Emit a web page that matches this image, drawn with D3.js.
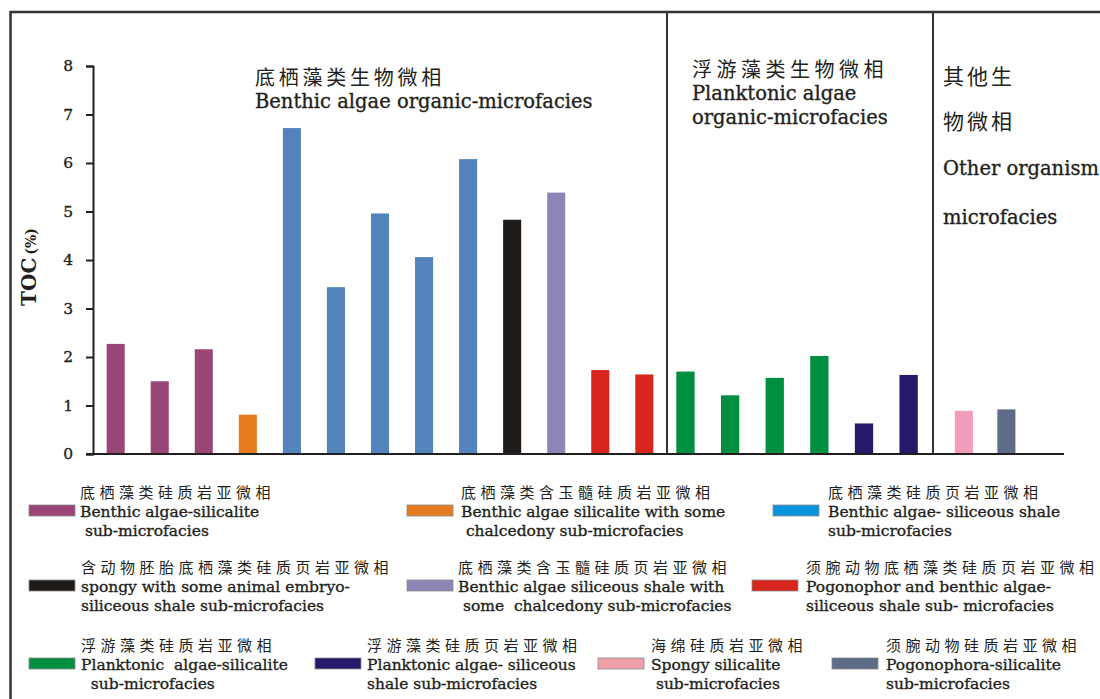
<!DOCTYPE html>
<html>
<head>
<meta charset="utf-8">
<script src="https://cdn.jsdelivr.net/npm/d3@7"></script>
<style>
  html, body { margin: 0; padding: 0; background: #fff; }
  svg { display: block; }
  text { white-space: pre; }
  text.heavy { stroke: #231f20; stroke-width: 0.35px; }
</style>
</head>
<body>
<script>
// ---------------- DATA ----------------
const categories = ["1","2","3","4","5","6","7","8","9","10","11","12","13","14","15","16","17","18","19","20","21"];
const values = [2.27, 1.50, 2.16, 0.81, 6.72, 3.44, 4.96, 4.06, 6.08, 4.83, 5.39, 1.73, 1.64, 1.70, 1.21, 1.57, 2.02, 0.63, 1.63, 0.89, 0.92];
const facies = [0, 0, 0, 1, 2, 2, 2, 2, 2, 3, 4, 5, 5, 6, 6, 6, 6, 7, 7, 8, 9];
const groupOf = ["benthic","benthic","benthic","benthic","benthic","benthic","benthic","benthic","benthic","benthic","benthic","benthic","benthic",
                 "planktonic","planktonic","planktonic","planktonic","planktonic","planktonic",
                 "other","other"];
const groupNames = ["benthic", "planktonic", "other"];
const yTicks = [0, 1, 2, 3, 4, 5, 6, 7, 8];

const barColors    = ["#9A4777", "#E67A1E", "#5283BA", "#201C19", "#8C86B7", "#D8261F", "#008F40", "#28186A", "#F19BBD", "#5E6D87"];
const legendColors = ["#9A4777", "#E67A1E", "#0A96DC", "#201C19", "#8C86B7", "#D8261F", "#008F40", "#28186A", "#EFA0A8", "#5E6D87"];

const legendCn = [
  "底栖藻类硅质岩亚微相",
  "底栖藻类含玉髓硅质岩亚微相",
  "底栖藻类硅质页岩亚微相",
  "含动物胚胎底栖藻类硅质页岩亚微相",
  "底栖藻类含玉髓硅质页岩亚微相",
  "须腕动物底栖藻类硅质页岩亚微相",
  "浮游藻类硅质岩亚微相",
  "浮游藻类硅质页岩亚微相",
  "海绵硅质岩亚微相",
  "须腕动物硅质岩亚微相"
];
const legendEn = [
  ["Benthic algae-silicalite", " sub-microfacies"],
  ["Benthic algae silicalite with some", " chalcedony sub-microfacies"],
  ["Benthic algae- siliceous shale", "sub-microfacies"],
  ["spongy with some animal embryo-", "siliceous shale sub-microfacies"],
  ["Benthic algae siliceous shale with", " some  chalcedony sub-microfacies"],
  ["Pogonophor and benthic algae-", "siliceous shale sub- microfacies"],
  ["Planktonic  algae-silicalite", "  sub-microfacies"],
  ["Planktonic algae- siliceous", "shale sub-microfacies"],
  ["Spongy silicalite", " sub-microfacies"],
  ["Pogonophora-silicalite", "sub-microfacies"]
];

const groupTitleCn = [["底栖藻类生物微相"], ["浮游藻类生物微相"], ["其他生", "物微相"]];
const groupTitleEn = [["Benthic algae organic-microfacies"], ["Planktonic algae", "organic-microfacies"], ["Other organism", "microfacies"]];

// ---------------- LAYOUT ----------------
const W = 1100, H = 699;
const INK = "#231f20";
const SERIF = "'DejaVu Serif', serif";
const CJK = "'Noto Sans CJK SC', sans-serif";

const svg = d3.select("body").append("svg").attr("width", W).attr("height", H);
svg.append("rect").attr("width", W).attr("height", H).attr("fill", "#fff");

// frame
svg.append("path").attr("d", "M10.5,699V12H1100").attr("fill", "none").attr("stroke", "#333").attr("stroke-width", 2.5);

const y = d3.scaleLinear().domain([0, 8]).range([454, 66]);

const groupRanges = [[93, 667], [667, 933], [933, 1064]];
const groupPad = [
  { inner: 0.59, outer: 0.31, align: 0.5 },
  { inner: 0.59, outer: 0.275, align: 0.38 },
  { inner: 0.576, outer: 0.828, align: 0.31 }
];
const xScales = {};
groupNames.forEach((g, gi) => {
  xScales[g] = d3.scaleBand()
    .domain(categories.filter((c, i) => groupOf[i] === g))
    .range(groupRanges[gi])
    .paddingInner(groupPad[gi].inner)
    .paddingOuter(groupPad[gi].outer)
    .align(groupPad[gi].align);
});

// dividers
[groupRanges[1][0], groupRanges[2][0]].forEach(xv => {
  svg.append("line").attr("x1", xv).attr("x2", xv).attr("y1", 12).attr("y2", y(0))
    .attr("stroke", "#333").attr("stroke-width", 2);
});

// bars
const bars = categories.map((c, i) => ({ c, v: values[i], f: facies[i], g: groupOf[i] }));
svg.append("g").selectAll("rect").data(bars).join("rect")
  .attr("x", d => xScales[d.g](d.c))
  .attr("width", d => xScales[d.g].bandwidth())
  .attr("y", d => y(d.v))
  .attr("height", d => y(0) - y(d.v))
  .attr("fill", d => barColors[d.f]);

// x baseline
svg.append("line").attr("x1", 86).attr("x2", groupRanges[2][1]).attr("y1", y(0)).attr("y2", y(0))
  .attr("stroke", INK).attr("stroke-width", 2);

// y axis
const yAxis = svg.append("g").attr("transform", "translate(93,0)")
  .call(d3.axisLeft(y).tickValues(yTicks).tickSize(7).tickPadding(13).tickFormat(d3.format("d")));
yAxis.select(".domain").attr("stroke", INK).attr("stroke-width", 2);
yAxis.selectAll(".tick line").attr("stroke", INK).attr("stroke-width", 2);
yAxis.selectAll(".tick text").attr("class", "heavy").attr("font-family", SERIF).attr("font-size", 15.5).attr("fill", INK);

// y label
const yl = svg.append("text").attr("transform", "translate(36,267) rotate(-90)")
  .attr("text-anchor", "middle").attr("font-family", SERIF).attr("font-weight", "bold").attr("fill", INK);
yl.append("tspan").attr("font-size", 20).text("TOC");
yl.append("tspan").attr("font-size", 14).attr("dx", 3).text("(%)");

// group titles
const titlePos = [
  { x: 255, cn: [85], cnSize: 20, cnLs: 3.75, en: [108] },
  { x: 692, cn: [77], cnSize: 20, cnLs: 4.5, en: [100, 124] },
  { x: 943, cn: [84, 129], cnSize: 21, cnLs: 3, en: [175, 224] }
];
groupTitleCn.forEach((lines, gi) => {
  lines.forEach((t, li) => {
    svg.append("text").attr("x", titlePos[gi].x).attr("y", titlePos[gi].cn[li])
      .attr("font-family", CJK).attr("font-size", titlePos[gi].cnSize)
      .attr("letter-spacing", titlePos[gi].cnLs).attr("fill", INK).text(t);
  });
  groupTitleEn[gi].forEach((t, li) => {
    svg.append("text").attr("class", "heavy").attr("x", titlePos[gi].x).attr("y", titlePos[gi].en[li])
      .attr("font-family", SERIF).attr("font-size", 19.5).attr("fill", INK).text(t);
  });
});

// legend
const rowY = [505, 580, 658]; // swatch tops
const legendPos = [
  { r: 0, sx: 29, tx: 80 }, { r: 0, sx: 407, tx: 461 }, { r: 0, sx: 773, tx: 828 },
  { r: 1, sx: 29, tx: 81 }, { r: 1, sx: 407, tx: 458 }, { r: 1, sx: 752, tx: 806 },
  { r: 2, sx: 29, tx: 81 }, { r: 2, sx: 315, tx: 367 }, { r: 2, sx: 598, tx: 651 }, { r: 2, sx: 832, tx: 886 }
];
const lg = svg.append("g").selectAll("g").data(legendCn).join("g");
lg.append("rect")
  .attr("x", (d, i) => legendPos[i].sx).attr("y", (d, i) => rowY[legendPos[i].r])
  .attr("width", 46).attr("height", 11)
  .attr("fill", (d, i) => legendColors[i]).attr("stroke", "#8a8a8a").attr("stroke-width", 0.8);
lg.append("text")
  .attr("x", (d, i) => legendPos[i].tx).attr("y", (d, i) => rowY[legendPos[i].r] - 7)
  .attr("font-family", CJK).attr("font-size", 15).attr("letter-spacing", 4.5).attr("fill", INK)
  .text(d => d);
lg.each(function (d, i) {
  legendEn[i].forEach((t, li) => {
    d3.select(this).append("text").attr("class", "heavy")
      .attr("x", legendPos[i].tx).attr("y", rowY[legendPos[i].r] + 11.5 + li * 19)
      .attr("font-family", SERIF).attr("font-size", 15.5).attr("fill", INK).text(t);
  });
});
</script>
</body>
</html>
